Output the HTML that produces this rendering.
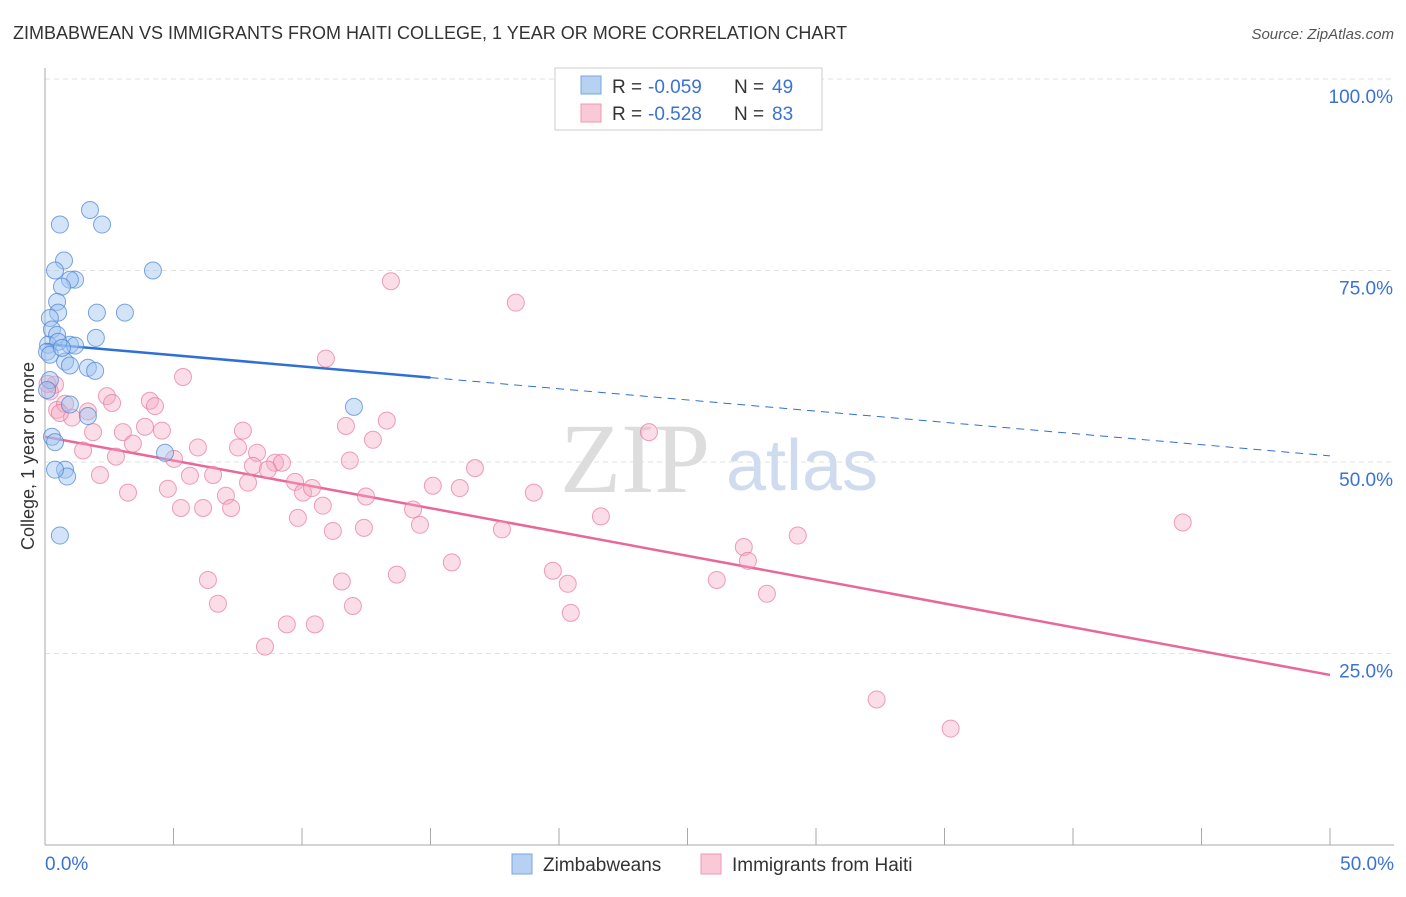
<!DOCTYPE html>
<html><head><meta charset="utf-8"><style>
body{margin:0;background:#fff;font-family:"Liberation Sans",sans-serif;}
svg text{font-family:"Liberation Sans",sans-serif;}
svg text.serif{font-family:"Liberation Serif",serif;}
</style></head><body>
<svg id="chart" width="1406" height="892">
<text x="13" y="39" font-size="18" fill="#333">ZIMBABWEAN VS IMMIGRANTS FROM HAITI COLLEGE, 1 YEAR OR MORE CORRELATION CHART</text>
<text x="1394" y="39" font-size="15" fill="#555" font-style="italic" text-anchor="end">Source: ZipAtlas.com</text>
<g id="grid"></g>
<text class="serif" x="635" y="492" font-size="100" fill="#ddd" text-anchor="middle">ZIP</text>
<text x="802" y="490" font-size="72" fill="#cfdcf0" text-anchor="middle">atlas</text>
<line x1="45" y1="68" x2="45" y2="845" stroke="#aaa"/>
<line x1="45" y1="845" x2="1394" y2="845" stroke="#aaa"/>
<text x="34" y="456" font-size="18" fill="#333" text-anchor="middle" transform="rotate(-90 34 456)">College, 1 year or more</text>
<g id="lines"></g>
<g id="pts"></g>
<g>
<rect x="555" y="68" width="267" height="62" fill="#fff" stroke="#ccc"/>
<rect x="581" y="76" width="20" height="18" fill="#b7d1f3" stroke="#7aa5e0"/>
<rect x="581" y="104" width="20" height="18" fill="#f9c9d7" stroke="#ee98b2"/>
<text x="612" y="93" font-size="19" fill="#333">R =</text>
<text x="648" y="93" font-size="19" fill="#3a72d6">-0.059</text>
<text x="734" y="93" font-size="19" fill="#333">N =</text>
<text x="772" y="93" font-size="19" fill="#3a72d6">49</text>
<text x="612" y="120" font-size="19" fill="#333">R =</text>
<text x="648" y="120" font-size="19" fill="#3a72d6">-0.528</text>
<text x="734" y="120" font-size="19" fill="#333">N =</text>
<text x="772" y="120" font-size="19" fill="#3a72d6">83</text>
</g>
<g>
<rect x="512" y="854" width="20" height="20" fill="#b7d1f3" stroke="#7aa5e0"/>
<text x="543" y="871" font-size="19" fill="#333">Zimbabweans</text>
<rect x="701" y="854" width="20" height="20" fill="#f9c9d7" stroke="#ee98b2"/>
<text x="732" y="871" font-size="19" fill="#333">Immigrants from Haiti</text>
</g>
</svg>
<script>
const yTicks=[25,50,75,100];
const yTickLabels=["25.0%","50.0%","75.0%","100.0%"];
const xTickVals=[0,5,10,15,20,25,30,35,40,45,50];
const xEndLabels=["0.0%","50.0%"];
const blueX=[1.75,0.58,2.22,0.74,0.39,4.20,1.17,0.97,0.66,0.47,2.02,3.11,0.51,0.19,0.27,0.47,1.98,0.12,0.97,1.17,0.51,0.08,0.78,1.67,1.95,0.97,0.19,0.08,0.97,1.67,12.02,0.27,0.39,0.78,0.86,0.39,4.67,0.58,0.19,0.66];
const blueY=[82.9,81.0,81.0,76.3,75.0,75.0,73.8,73.8,72.9,70.9,69.5,69.5,69.5,68.8,67.3,66.6,66.2,65.3,65.3,65.2,65.7,64.4,63.1,62.3,61.9,62.6,60.7,59.4,57.5,56.0,57.2,53.3,52.6,49.0,48.1,49.0,51.2,40.4,64.0,64.9];
const pinkX=[13.46,18.32,10.93,5.37,23.50,0.39,0.19,0.47,0.78,1.05,1.67,2.41,2.61,1.87,3.03,4.08,4.28,3.89,3.42,4.55,1.48,2.76,5.02,7.70,11.71,13.30,12.76,5.95,8.25,7.51,8.95,9.22,8.09,8.67,11.86,16.73,2.14,3.23,4.78,5.64,6.54,7.90,9.73,10.04,10.39,7.04,5.29,6.15,7.24,10.81,12.49,15.09,16.14,19.02,9.84,14.32,14.59,11.20,12.41,17.78,21.63,44.27,29.29,27.19,27.35,6.34,6.73,11.55,13.69,15.83,19.76,20.34,26.14,28.09,11.98,20.46,9.41,10.50,8.56,32.36,35.24,0.10,0.58];
const pinkY=[73.6,70.8,63.5,61.1,53.9,60.1,59.2,56.8,57.6,55.8,56.6,58.6,57.7,53.9,53.9,58.0,57.3,54.6,52.4,54.1,51.5,50.7,50.4,54.1,54.7,55.4,52.9,51.9,51.2,51.9,49.9,49.9,49.5,49.0,50.2,49.2,48.3,46.0,46.5,48.2,48.3,47.3,47.4,46.0,46.6,45.6,44.0,44.0,44.0,44.3,45.5,46.9,46.6,46.0,42.7,43.8,41.8,41.0,41.4,41.2,42.9,42.1,40.4,38.9,37.1,34.6,31.5,34.4,35.3,36.9,35.8,34.1,34.6,32.8,31.2,30.3,28.8,28.8,25.9,19.0,15.2,60.2,56.4];
const blueTrend=[65.4,50.8];
const pinkTrend=[53.3,22.2];
const NS="http://www.w3.org/2000/svg";
const xs=v=>45+v*(1285/50);
const ys=v=>845-v*7.66;
function mk(t,a,p){const e=document.createElementNS(NS,t);for(const k in a)e.setAttribute(k,a[k]);p.appendChild(e);return e;}
const grid=document.getElementById('grid');
yTicks.forEach((t,i)=>{
 const l=mk('line',{x1:45,x2:1394,y1:ys(t),y2:ys(t),stroke:'#e2e2e2','stroke-dasharray':'5,4'},grid);
 
 
 const tx=mk('text',{x:1393,y:ys(t)+24,'font-size':19,fill:'#3a72d6','text-anchor':'end'},grid);
 tx.textContent=yTickLabels[i];
 
 
});
xTickVals.forEach(v=>{
 const l=mk('line',{x1:xs(v),x2:xs(v),y1:828,y2:845,stroke:'#aaa'},grid);
 
 
});
[[0,'start',45],[50,'end',1394]].forEach((d,i)=>{
 const tx=mk('text',{x:d[2],y:870,'font-size':19,fill:'#3a72d6','text-anchor':d[1]},grid);
 tx.textContent=xEndLabels[i];
 
 
});
const pts=document.getElementById('pts');
pinkX.forEach((x,i)=>{
 const c=mk('circle',{cx:xs(x),cy:ys(pinkY[i]),r:8.5,fill:'rgba(246,170,195,0.4)',stroke:'rgba(232,120,155,0.7)','stroke-width':1},pts);
 
 
});
blueX.forEach((x,i)=>{
 const c=mk('circle',{cx:xs(x),cy:ys(blueY[i]),r:8.5,fill:'rgba(160,195,240,0.45)',stroke:'rgba(70,130,215,0.7)','stroke-width':1},pts);
 
 
});
const lines=document.getElementById('lines');
const bAt=v=>blueTrend[0]+(blueTrend[1]-blueTrend[0])*v/50;
let l1=mk('line',{x1:xs(0),y1:ys(bAt(0)),x2:xs(15),y2:ys(bAt(15)),stroke:'#2f6fd6','stroke-width':2.5},lines);


let l2=mk('line',{x1:xs(15),y1:ys(bAt(15)),x2:xs(50),y2:ys(bAt(50)),stroke:'#2f6fd6','stroke-width':1,'stroke-dasharray':'8,6'},lines);


let l3=mk('line',{x1:xs(0),y1:ys(pinkTrend[0]),x2:xs(50),y2:ys(pinkTrend[1]),stroke:'#e8689a','stroke-width':2.5},lines);


</script>
</body></html>
